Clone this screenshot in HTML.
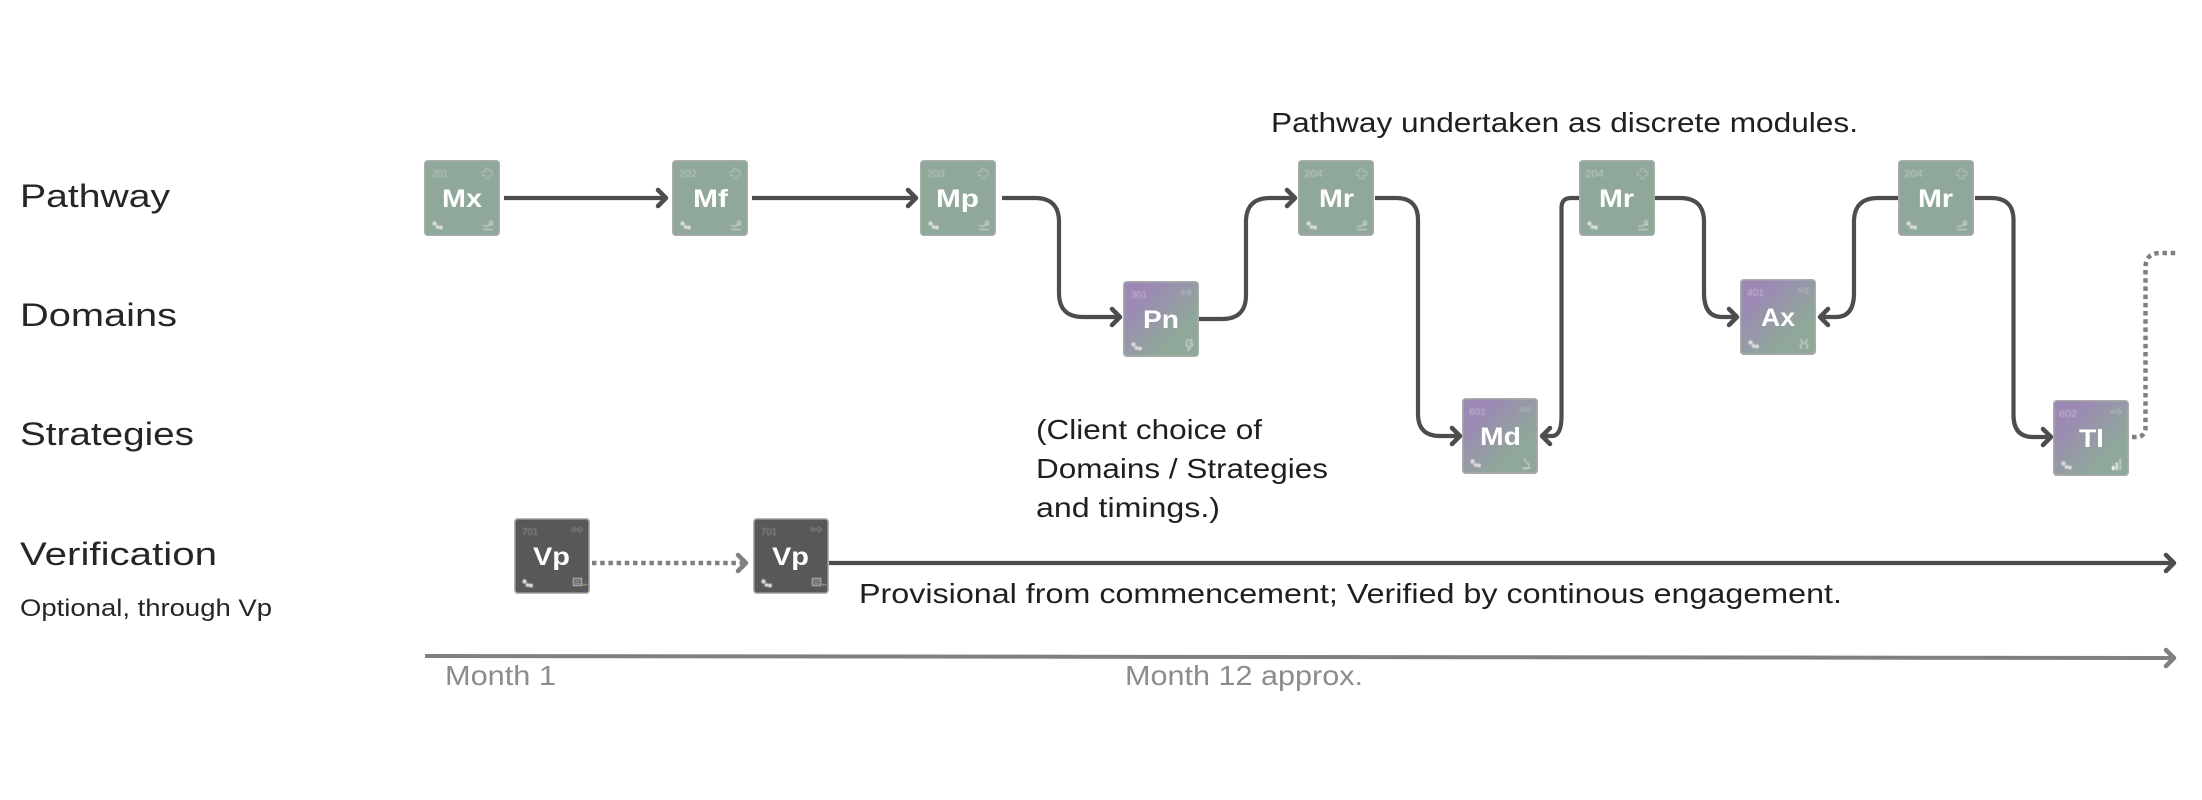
<!DOCTYPE html>
<html><head><meta charset="utf-8"><style>
html,body{margin:0;padding:0;background:#fff}
svg{display:block}
text{font-family:"Liberation Sans",sans-serif}
</style></head><body>
<svg width="2202" height="800" viewBox="0 0 2202 800" xmlns="http://www.w3.org/2000/svg">
<defs>
<linearGradient id="pg" x1="0" y1="0" x2="1" y2="1">
<stop offset="0.2" stop-color="#9d88b5"/><stop offset="0.72" stop-color="#8fa89a"/>
</linearGradient>
<filter id="b" x="-20%" y="-20%" width="140%" height="140%"><feGaussianBlur stdDeviation="0.5"/></filter>
<g id="mol" fill="#dedede"><circle cx="10.5" cy="63.5" r="2.2"/><circle cx="13.5" cy="67" r="1.9"/><circle cx="17" cy="67.5" r="2"/></g>
<path id="plus" d="M61.5 8.5h4v3h3v4h-3v3h-4v-3h-3v-4h3z" fill="none" stroke="#fff" stroke-opacity=".28" stroke-width="1"/>
<g id="dia" fill="none" stroke="#fff" stroke-opacity=".25" stroke-width="1"><path d="M60 9.5l2.2 2-2.2 2-2.2-2z"/><path d="M66 9l2.5 2.5-2.5 2.5-2.5-2.5z"/></g>
<g id="run" fill="none" stroke="#e4e4e4" stroke-opacity=".8" stroke-width="1"><circle cx="67" cy="62.5" r="1.7"/><path d="M59 66h5l2-1.5h3M59 69.5h10"/></g>
<marker id="ah" markerUnits="userSpaceOnUse" markerWidth="24" markerHeight="24" refX="12" refY="12" orient="auto"><path d="M4 4L12 12L4 20" fill="none" stroke="#4d4d4d" stroke-width="4.5" stroke-linecap="round" stroke-linejoin="round"/></marker>
<marker id="ag" markerUnits="userSpaceOnUse" markerWidth="24" markerHeight="24" refX="12" refY="12" orient="auto"><path d="M4 4L12 12L4 20" fill="none" stroke="#808080" stroke-width="4.5" stroke-linecap="round" stroke-linejoin="round"/></marker>
</defs>

<rect width="2202" height="800" fill="#fff"/>

<!-- row labels -->
<g fill="#262626" font-size="32">
<text x="20" y="207" textLength="150" lengthAdjust="spacingAndGlyphs">Pathway</text>
<text x="20" y="326" textLength="157" lengthAdjust="spacingAndGlyphs">Domains</text>
<text x="20" y="445" textLength="174" lengthAdjust="spacingAndGlyphs">Strategies</text>
<text x="20" y="565" textLength="197" lengthAdjust="spacingAndGlyphs">Verification</text>
</g>
<text x="20" y="616" font-size="24" fill="#262626" textLength="252" lengthAdjust="spacingAndGlyphs">Optional, through Vp</text>

<g fill="#1f1f1f" font-size="28">
<text x="1271" y="132" textLength="587" lengthAdjust="spacingAndGlyphs">Pathway undertaken as discrete modules.</text>
<text x="1036" y="439" textLength="226" lengthAdjust="spacingAndGlyphs">(Client choice of</text>
<text x="1036" y="478" textLength="292" lengthAdjust="spacingAndGlyphs">Domains / Strategies</text>
<text x="1036" y="517" textLength="184" lengthAdjust="spacingAndGlyphs">and timings.)</text>
<text x="859" y="603" textLength="983" lengthAdjust="spacingAndGlyphs">Provisional from commencement; Verified by continous engagement.</text>
</g>
<g fill="#8c8c8c" font-size="28">
<text x="445" y="685" textLength="111" lengthAdjust="spacingAndGlyphs">Month 1</text>
<text x="1125" y="685" textLength="238" lengthAdjust="spacingAndGlyphs">Month 12 approx.</text>
</g>

<!-- connectors -->
<g fill="none" stroke="#4d4d4d" stroke-width="4.2" stroke-linejoin="round">
<path d="M504 198H666" marker-end="url(#ah)"/>
<path d="M752 198H916" marker-end="url(#ah)"/>
<path d="M1002 198H1035Q1059 198 1059 222V293Q1059 317 1083 317H1120" marker-end="url(#ah)"/>
<path d="M1199 319H1222Q1246 319 1246 295V222Q1246 198 1270 198H1295" marker-end="url(#ah)"/>
<path d="M1375 198H1396Q1418 198 1418 220V414Q1418 436 1440 436H1460" marker-end="url(#ah)"/>
<path d="M1579 198H1571Q1561.5 198 1561.5 208V416Q1561.5 436 1552 436H1542" marker-end="url(#ah)"/>
<path d="M1655 198H1680Q1704 198 1704 222V293Q1704 317 1722 317H1737" marker-end="url(#ah)"/>
<path d="M1898 198H1878Q1854 198 1854 222V293Q1854 317 1836 317H1820" marker-end="url(#ah)"/>
<path d="M1975 198H1991Q2013.5 198 2013.5 220V415Q2013.5 437 2033 437H2051" marker-end="url(#ah)"/>
<path d="M829 563H2174" marker-end="url(#ah)"/>
</g>
<path d="M592 563H746" fill="none" stroke="#808080" stroke-width="4.5" stroke-dasharray="4.5 3.7" marker-end="url(#ag)"/>
<path d="M2132 437H2136Q2145.5 437 2145.5 427V268Q2145.5 253 2160 253H2178" fill="none" stroke="#808080" stroke-width="4.5" stroke-dasharray="4.5 3.7"/>
<path d="M425 656L2174 658" fill="none" stroke="#808080" stroke-width="4" marker-end="url(#ag)"/>

<!-- nodes -->
<g>
<g transform="translate(424,160)"><rect x=".75" y=".75" width="74.5" height="74.5" rx="3" fill="#8fa89a" stroke="#a9aca9" stroke-width="1.5"/>
<g filter="url(#b)"><text x="8" y="17" font-size="10" fill="#fff" fill-opacity=".38" textLength="16" lengthAdjust="spacingAndGlyphs">201</text><use href="#plus"/><use href="#mol"/><use href="#run"/></g>
<text x="18" y="47" font-size="25" font-weight="bold" fill="#fff" textLength="40" lengthAdjust="spacingAndGlyphs">Mx</text></g>

<g transform="translate(672,160)"><rect x=".75" y=".75" width="74.5" height="74.5" rx="3" fill="#8fa89a" stroke="#a9aca9" stroke-width="1.5"/>
<g filter="url(#b)"><text x="7" y="17" font-size="10" fill="#fff" fill-opacity=".38" textLength="18" lengthAdjust="spacingAndGlyphs">202</text><use href="#plus"/><use href="#mol"/><use href="#run"/></g>
<text x="21" y="47" font-size="25" font-weight="bold" fill="#fff" textLength="35" lengthAdjust="spacingAndGlyphs">Mf</text></g>

<g transform="translate(920,160)"><rect x=".75" y=".75" width="74.5" height="74.5" rx="3" fill="#8fa89a" stroke="#a9aca9" stroke-width="1.5"/>
<g filter="url(#b)"><text x="7" y="17" font-size="10" fill="#fff" fill-opacity=".38" textLength="18" lengthAdjust="spacingAndGlyphs">203</text><use href="#plus"/><use href="#mol"/><use href="#run"/></g>
<text x="16" y="47" font-size="25" font-weight="bold" fill="#fff" textLength="43" lengthAdjust="spacingAndGlyphs">Mp</text></g>

<g transform="translate(1123,281)"><rect x=".75" y=".75" width="74.5" height="74.5" rx="3" fill="url(#pg)" stroke="#a9aca9" stroke-width="1.5"/>
<g filter="url(#b)"><text x="8" y="17" font-size="10" fill="#fff" fill-opacity=".38" textLength="16" lengthAdjust="spacingAndGlyphs">301</text><use href="#dia"/><use href="#mol"/><path d="M64 59h5l-2 4h3l-5 7 1-5h-3z" fill="none" stroke="#e4e4e4" stroke-opacity=".8"/></g>
<text x="20" y="47" font-size="25" font-weight="bold" fill="#fff" textLength="36" lengthAdjust="spacingAndGlyphs">Pn</text></g>

<g transform="translate(1298,160)"><rect x=".75" y=".75" width="74.5" height="74.5" rx="3" fill="#8fa89a" stroke="#a9aca9" stroke-width="1.5"/>
<g filter="url(#b)"><text x="6" y="17" font-size="10" fill="#fff" fill-opacity=".38" textLength="19" lengthAdjust="spacingAndGlyphs">204</text><use href="#plus"/><use href="#mol"/><use href="#run"/></g>
<text x="21" y="47" font-size="25" font-weight="bold" fill="#fff" textLength="35" lengthAdjust="spacingAndGlyphs">Mr</text></g>

<g transform="translate(1462,398)"><rect x=".75" y=".75" width="74.5" height="74.5" rx="3" fill="url(#pg)" stroke="#a9aca9" stroke-width="1.5"/>
<g filter="url(#b)"><text x="7" y="17" font-size="10" fill="#fff" fill-opacity=".38" textLength="17" lengthAdjust="spacingAndGlyphs">601</text><use href="#dia"/><use href="#mol"/><path d="M62 60l2 4a3.5 3.5 0 1 1-3 6h8" fill="none" stroke="#e4e4e4" stroke-opacity=".8"/></g>
<text x="18" y="47" font-size="25" font-weight="bold" fill="#fff" textLength="41" lengthAdjust="spacingAndGlyphs">Md</text></g>

<g transform="translate(1579,160)"><rect x=".75" y=".75" width="74.5" height="74.5" rx="3" fill="#8fa89a" stroke="#a9aca9" stroke-width="1.5"/>
<g filter="url(#b)"><text x="6" y="17" font-size="10" fill="#fff" fill-opacity=".38" textLength="19" lengthAdjust="spacingAndGlyphs">204</text><use href="#plus"/><use href="#mol"/><use href="#run"/></g>
<text x="20" y="47" font-size="25" font-weight="bold" fill="#fff" textLength="35" lengthAdjust="spacingAndGlyphs">Mr</text></g>

<g transform="translate(1740,279)"><rect x=".75" y=".75" width="74.5" height="74.5" rx="3" fill="url(#pg)" stroke="#a9aca9" stroke-width="1.5"/>
<g filter="url(#b)"><text x="7" y="17" font-size="10" fill="#fff" fill-opacity=".38" textLength="17" lengthAdjust="spacingAndGlyphs">401</text><use href="#dia"/><use href="#mol"/><path d="M60 60l3 4-3 3 2 3M68 60l-3 4 3 3-2 3" fill="none" stroke="#e4e4e4" stroke-opacity=".85"/></g>
<text x="21" y="47" font-size="25" font-weight="bold" fill="#fff" textLength="34" lengthAdjust="spacingAndGlyphs">Ax</text></g>

<g transform="translate(1898,160)"><rect x=".75" y=".75" width="74.5" height="74.5" rx="3" fill="#8fa89a" stroke="#a9aca9" stroke-width="1.5"/>
<g filter="url(#b)"><text x="6" y="17" font-size="10" fill="#fff" fill-opacity=".38" textLength="19" lengthAdjust="spacingAndGlyphs">204</text><use href="#plus"/><use href="#mol"/><use href="#run"/></g>
<text x="20" y="47" font-size="25" font-weight="bold" fill="#fff" textLength="35" lengthAdjust="spacingAndGlyphs">Mr</text></g>

<g transform="translate(2053,400)"><rect x=".75" y=".75" width="74.5" height="74.5" rx="3" fill="url(#pg)" stroke="#a9aca9" stroke-width="1.5"/>
<g filter="url(#b)"><text x="6" y="17" font-size="10" fill="#fff" fill-opacity=".38" textLength="18" lengthAdjust="spacingAndGlyphs">602</text><use href="#dia"/><use href="#mol"/><rect x="59" y="66" width="2.5" height="4" fill="#fff"/><rect x="62.5" y="62.5" width="2.5" height="7.5" fill="#fff" fill-opacity=".7"/><rect x="66" y="59" width="2.5" height="11" fill="#fff" fill-opacity=".35"/></g>
<text x="26" y="47" font-size="25" font-weight="bold" fill="#fff" textLength="25" lengthAdjust="spacingAndGlyphs">Tl</text></g>

<g transform="translate(514,518)"><rect x=".75" y=".75" width="74.5" height="74.5" rx="3" fill="#585858" stroke="#b5b5b5" stroke-width="1.5"/>
<g filter="url(#b)"><text x="8" y="17" font-size="10" fill="#fff" fill-opacity=".32" textLength="16" lengthAdjust="spacingAndGlyphs">701</text><use href="#dia"/><use href="#mol"/><rect x="59.5" y="60.5" width="8" height="7" fill="none" stroke="#ccc" stroke-width="1"/><path d="M61 63h5M61 65.5h5" stroke="#ccc" stroke-width=".8"/><rect x="69" y="66" width="2.5" height="1.5" fill="#d2a040"/><rect x="72" y="66" width="2.5" height="1.5" fill="#5a8fd0"/></g>
<text x="19" y="47" font-size="25" font-weight="bold" fill="#fff" textLength="37" lengthAdjust="spacingAndGlyphs">Vp</text></g>

<g transform="translate(753,518)"><rect x=".75" y=".75" width="74.5" height="74.5" rx="3" fill="#585858" stroke="#b5b5b5" stroke-width="1.5"/>
<g filter="url(#b)"><text x="8" y="17" font-size="10" fill="#fff" fill-opacity=".32" textLength="16" lengthAdjust="spacingAndGlyphs">701</text><use href="#dia"/><use href="#mol"/><rect x="59.5" y="60.5" width="8" height="7" fill="none" stroke="#ccc" stroke-width="1"/><path d="M61 63h5M61 65.5h5" stroke="#ccc" stroke-width=".8"/><rect x="69" y="66" width="2.5" height="1.5" fill="#d2a040"/><rect x="72" y="66" width="2.5" height="1.5" fill="#5a8fd0"/></g>
<text x="19" y="47" font-size="25" font-weight="bold" fill="#fff" textLength="37" lengthAdjust="spacingAndGlyphs">Vp</text></g>
</g>
</svg>
</body></html>
